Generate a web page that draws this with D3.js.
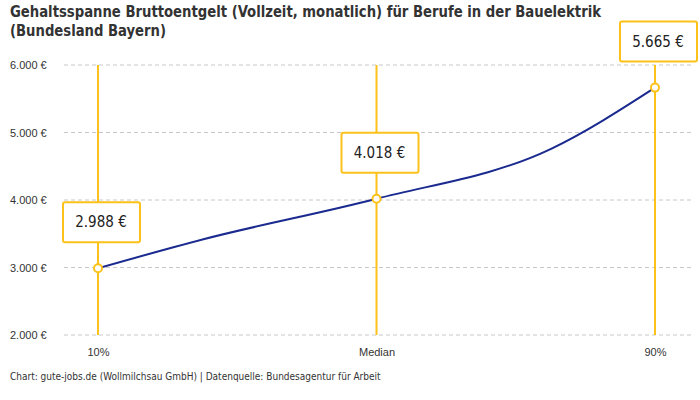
<!DOCTYPE html>
<html><head><meta charset="utf-8">
<script src="https://cdn.jsdelivr.net/npm/d3@7"></script>
<style>
body{margin:0;background:#fff;}
svg{font-family:"DejaVu Sans Condensed","Roboto",sans-serif;}
</style></head>
<body>
<svg id="chart" width="700" height="400"></svg>
<script>
// marked categories (percentiles) with their values
const categories = ["10%", "Median", "90%"];
const categoryPercentiles = [10, 50, 90];
const values = [2988, 4018, 5665];
const valueLabels = ["2.988 €", "4.018 €", "5.665 €"];
// curve support points (incl. quartiles, unmarked)
const curvePercentiles = [10, 25, 50, 75, 90];
const curveValues = [2988, 3415, 4018, 4755, 5665];
const yTicks = [2000, 3000, 4000, 5000, 6000];
const yTickLabels = ["2.000 €", "3.000 €", "4.000 €", "5.000 €", "6.000 €"];
const titleLines = ["Gehaltsspanne Bruttoentgelt (Vollzeit, monatlich) für Berufe in der Bauelektrik", "(Bundesland Bayern)"];
const footer = "Chart: gute-jobs.de (Wollmilchsau GmbH) | Datenquelle: Bundesagentur für Arbeit";

const svg = d3.select("#chart");
const yellow = "#fcc21b", navy = "#1a2a8f";
const pL = 64, pR = 694, pT = 65, pB = 335;

const x = d3.scaleLinear().domain([10, 90]).range([98, 655]);
const y = d3.scaleLinear().domain([2000, 6000]).range([pB, pT]);

// title
svg.append("g").selectAll("text").data(titleLines).join("text")
  .attr("x", 10).attr("y", (d, i) => 17 + i * 19)
  .attr("font-size", 16).attr("font-weight", "bold").attr("fill", "#333")
  .attr("textLength", (d, i) => i === 0 ? 591 : 156)
  .attr("lengthAdjust", "spacingAndGlyphs")
  .text(d => d);

// y axis + grid
const yAxis = d3.axisLeft(y).tickValues(yTicks).tickSize(0)
  .tickFormat((d, i) => yTickLabels[i]);
const gy = svg.append("g").attr("transform", `translate(${pL - 16},0)`).call(yAxis);
gy.select(".domain").remove();
gy.selectAll("text").attr("font-size", 11).attr("fill", "#333")
  .attr("text-anchor", "start").attr("x", 10 - (pL - 16));
svg.append("g").selectAll("line").data(yTicks).join("line")
  .attr("x1", pL).attr("x2", pR)
  .attr("y1", d => y(d)).attr("y2", d => y(d))
  .attr("stroke", "#c8c8c8").attr("stroke-dasharray", "4,3");

// x axis labels
const xAxis = d3.axisBottom(x).tickValues(categoryPercentiles).tickSize(0)
  .tickFormat((d, i) => categories[i]);
const gx = svg.append("g").attr("transform", `translate(0,${pB + 10})`).call(xAxis);
gx.select(".domain").remove();
gx.selectAll("text").attr("font-size", 11).attr("fill", "#333");

// vertical yellow lines
svg.append("g").selectAll("line").data(categoryPercentiles).join("line")
  .attr("x1", d => x(d)).attr("x2", d => x(d))
  .attr("y1", pT).attr("y2", pB)
  .attr("stroke", yellow).attr("stroke-width", 2);

// curve
const line = d3.line().x((d, i) => x(curvePercentiles[i])).y(d => y(d)).curve(d3.curveMonotoneX);
svg.append("path").datum(curveValues).attr("d", line)
  .attr("fill", "none").attr("stroke", navy).attr("stroke-width", 2);

// points
svg.append("g").selectAll("circle").data(values).join("circle")
  .attr("cx", (d, i) => x(categoryPercentiles[i])).attr("cy", d => y(d)).attr("r", 4)
  .attr("fill", "#fff").attr("stroke", yellow).attr("stroke-width", 2);

// labels
const lab = svg.append("g").selectAll("g").data(values).join("g")
  .attr("transform", (d, i) => `translate(${x(categoryPercentiles[i]) + 3},${y(d) - 26})`);
lab.append("rect").attr("x", -38).attr("y", -40).attr("width", 77).attr("height", 40)
  .attr("rx", 2).attr("fill", "#fff").attr("stroke", yellow).attr("stroke-width", 2);
lab.append("text").attr("y", -15).attr("text-anchor", "middle")
  .attr("font-size", 15).attr("fill", "#222").text((d, i) => valueLabels[i]);

// footer
svg.append("text").attr("x", 10).attr("y", 380).attr("font-size", 10).attr("fill", "#333").text(footer);
</script>
</body></html>
